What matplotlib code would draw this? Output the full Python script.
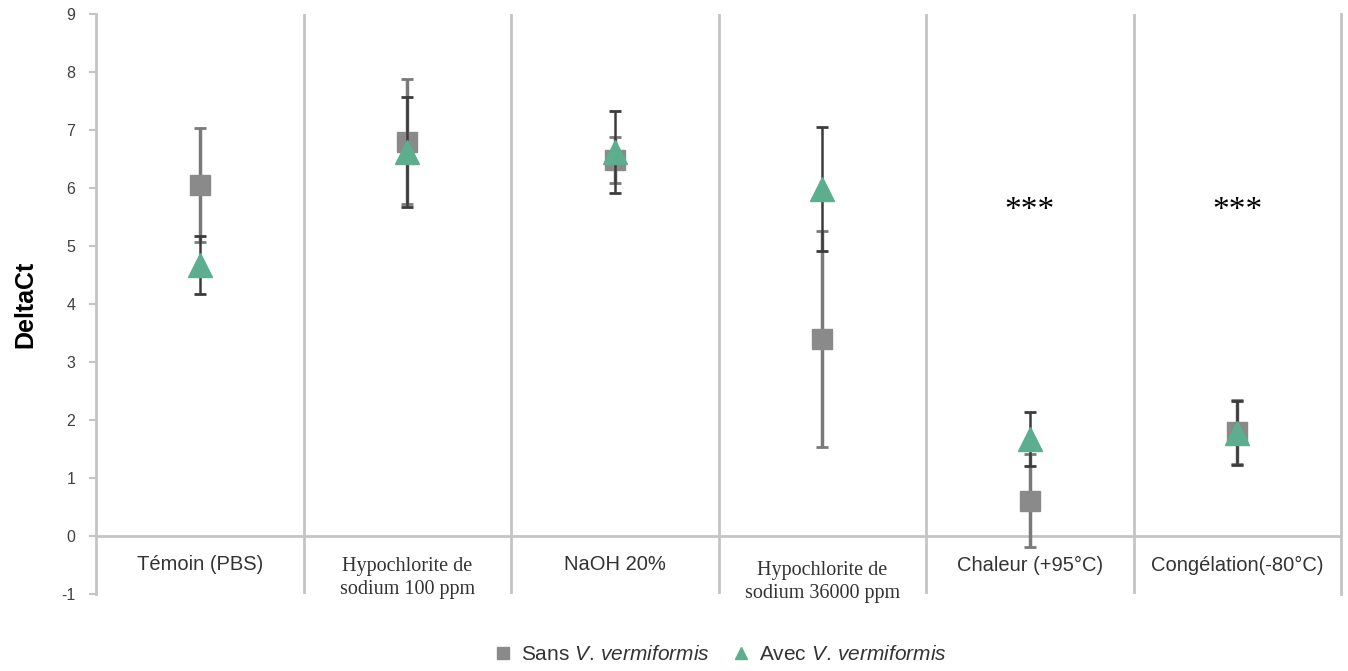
import matplotlib
matplotlib.use("Agg")
import matplotlib.pyplot as plt
from matplotlib.lines import Line2D

categories = ["Témoin (PBS)", "Hypochlorite de\nsodium 100 ppm", "NaOH 20%",
              "Hypochlorite de\nsodium 36000 ppm", "Chaleur (+95°C)", "Congélation(-80°C)"]
serif_labels = [False, True, False, True, False, False]
label_y = [-0.5, -0.72, -0.5, -0.79, -0.5, -0.5]

sans_vals = [6.05, 6.80, 6.48, 3.40, 0.61, 1.80]
sans_err = [0.98, 1.08, 0.40, 1.86, 0.80, 0.55]
avec_vals = [4.68, 6.62, 6.62, 5.99, 1.67, 1.78]
avec_err = [0.50, 0.95, 0.70, 1.07, 0.46, 0.55]

stars = ["", "", "", "", "***", "***"]
star_y = 5.6

yticks = list(range(-1, 10))

plt.rcParams['font.family'] = ['Liberation Sans', 'DejaVu Sans']
plt.rcParams['mathtext.fontset'] = 'custom'
plt.rcParams['mathtext.it'] = 'Liberation Sans:italic'
plt.rcParams['mathtext.rm'] = 'Liberation Sans'

gray = '#8a8a8a'
green = '#5cae8e'
axis_col = '#c4c4c4'

fig = plt.figure(figsize=(13.48, 6.71), dpi=100)
ax = fig.add_axes([96/1348, 1-594/671, (1341-96)/1348, (594-14)/671])
ax.set_xlim(0, len(categories))
ax.set_ylim(-1, 9)

xs = [i + 0.5 for i in range(len(categories))]

# separators
for b in range(1, len(categories)):
    ax.axvline(b, color=axis_col, lw=2, zorder=1)
ax.axhline(0, color=axis_col, lw=2, zorder=1)

for s in ['top', 'bottom']:
    ax.spines[s].set_visible(False)
for s in ['left', 'right']:
    ax.spines[s].set_color(axis_col)
    ax.spines[s].set_linewidth(2)

ax.errorbar(xs, sans_vals, yerr=sans_err, fmt='s', color=gray, ms=14.5, mec=gray,
            ecolor='#7a7a7a', elinewidth=2.5, capsize=4, capthick=2, zorder=3)
ax.errorbar(xs, avec_vals, yerr=avec_err, fmt='^', color=green, ms=17.5, mec=green,
            ecolor='#3c3c3c', elinewidth=1.8, capsize=4, capthick=2, zorder=4)

ax.set_xticks([])
ax.set_yticks(yticks)
ax.set_yticklabels([str(t) for t in yticks], fontsize=11.5, color='#404040')
ax.tick_params(axis='y', color=axis_col, length=5, width=1.5, pad=10)
ax.tick_params(axis='y', which='both', right=False)

for x, lab, ser, ly in zip(xs, categories, serif_labels, label_y):
    if ser:
        ax.text(x, ly, lab, ha='center', va='center', fontsize=14.5,
                family=['Liberation Serif', 'DejaVu Serif'], color='#333333',
                linespacing=1.3)
    else:
        ax.text(x, ly, lab, ha='center', va='center', fontsize=14.5, color='#333333')

for x, st in zip(xs, stars):
    if st:
        ax.text(x, star_y, st, ha='center', va='center', fontsize=24,
                family=['Liberation Serif', 'DejaVu Serif'], color='black')

ax.set_ylabel('DeltaCt', fontsize=18, fontweight='bold', labelpad=17)

handles = [Line2D([], [], marker='s', ls='', color=gray, ms=8),
           Line2D([], [], marker='^', ls='', color=green, ms=9)]
labels = [r'Sans $\mathit{V.\,vermiformis}$', r'Avec $\mathit{V.\,vermiformis}$']
ax.legend(handles, labels, loc='center', bbox_to_anchor=(0.5, -0.105), ncol=2,
          frameon=False, fontsize=15, handletextpad=0.25, columnspacing=0.9,
          handlelength=1.2, labelcolor='#333333')

fig.savefig('out.png', dpi=100)
